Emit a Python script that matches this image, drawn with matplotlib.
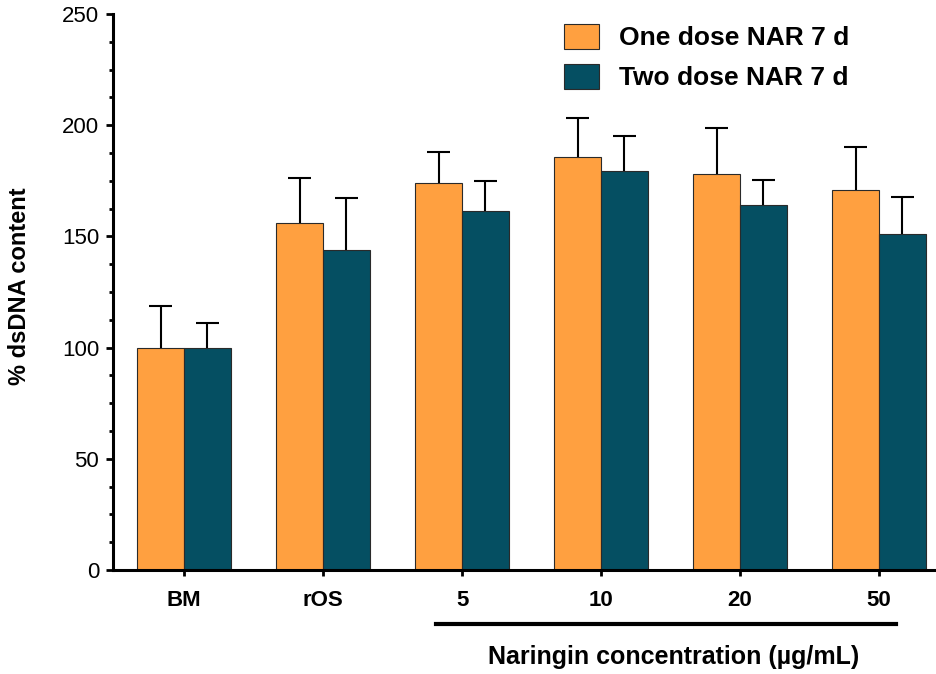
import numpy as np
import matplotlib
matplotlib.use("Agg")
import matplotlib.pyplot as plt
from matplotlib.patches import Patch
from matplotlib.lines import Line2D

plt.rcParams['font.family'] = ['Liberation Sans', 'DejaVu Sans']

groups = ["BM", "rOS", "5", "10", "20", "50"]
one_dose_mean = [100.0, 156.0, 174.0, 185.7, 178.0, 170.9]
one_dose_sd = [18.7, 20.3, 14.0, 17.5, 20.7, 19.3]
two_dose_mean = [100.0, 143.9, 161.4, 179.4, 164.1, 151.1]
two_dose_sd = [11.0, 23.4, 13.6, 15.7, 11.3, 16.6]
series_labels = ["One dose NAR 7 d", "Two dose NAR 7 d"]
y_ticks = [0, 50, 100, 150, 200, 250]

orange = "#FFA040"
teal = "#054F62"

fig = plt.figure(figsize=(9.37, 6.74), dpi=100)
ax = fig.add_axes([113 / 937, 104 / 674, 824 / 937, 556 / 674])

x = np.arange(len(groups))
w = 0.335
edge = "#2a2a2a"
ax.bar(x - w / 2, one_dose_mean, w, color=orange, edgecolor=edge, linewidth=0.8, zorder=2)
ax.bar(x + w / 2, two_dose_mean, w, color=teal, edgecolor=edge, linewidth=0.8, zorder=2)

# upper-only error bars with caps
cap = 0.083
for xs, m, s in [(x - w / 2, one_dose_mean, one_dose_sd), (x + w / 2, two_dose_mean, two_dose_sd)]:
    m = np.asarray(m)
    s = np.asarray(s)
    ax.vlines(xs, m, m + s, color="black", linewidth=1.5, zorder=3)
    ax.hlines(m + s, xs - cap, xs + cap, color="black", linewidth=1.5, zorder=3)

ax.set_xlim(-0.511, 5.417)
ax.set_ylim(0, 250)

for side in ("top", "right"):
    ax.spines[side].set_visible(False)
for side in ("left", "bottom"):
    ax.spines[side].set_linewidth(2.2)

ax.set_yticks(y_ticks)
ax.set_yticks(np.arange(0, 250.1, 12.5), minor=True)
ax.tick_params(axis="y", which="major", length=5, width=2.0, labelsize=16, pad=5)
ax.tick_params(axis="y", which="minor", length=3, width=2.0)
ax.set_xticks(x)
ax.set_xticklabels(groups, fontweight="bold", fontsize=16)
ax.tick_params(axis="x", length=4.5, width=2.0, pad=10)

ax.set_ylabel("% dsDNA content", fontsize=17, fontweight="bold")
ax.yaxis.set_label_coords((31 - 113) / 824, 0.51)

# bracket under the naringin concentrations
ax.add_line(Line2D([1.813, 5.122], [-24.5, -24.5], color="black", linewidth=3,
                   clip_on=False, transform=ax.transData))
ax.text(3.52, -39, "Naringin concentration (µg/mL)", ha="center", va="center",
        fontsize=18, fontweight="bold", clip_on=False)

handles = [Patch(facecolor=orange, edgecolor=edge, linewidth=0.8),
           Patch(facecolor=teal, edgecolor=edge, linewidth=0.8)]
leg = ax.legend(handles, series_labels, loc="upper left",
                bbox_to_anchor=((540 - 113) / 824, 1.025),
                frameon=False, prop={"weight": "bold", "size": 19},
                handlelength=1.35, handleheight=1.1, handletextpad=0.75, labelspacing=0.5)

fig.savefig("out.png", dpi=100)
